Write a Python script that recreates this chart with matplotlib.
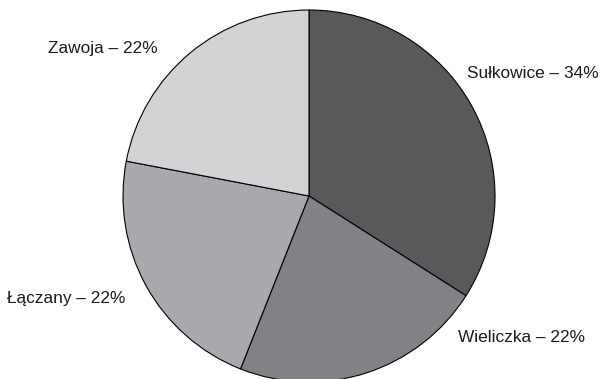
import matplotlib
matplotlib.use("Agg")
import matplotlib.pyplot as plt

plt.rcParams['font.family'] = ['Liberation Sans', 'DejaVu Sans']

# data
places = ["Sułkowice", "Wieliczka", "Łączany", "Zawoja"]
shares = [34, 22, 22, 22]
colors = ["#58595b", "#808285", "#a7a9ac", "#d1d3d4"]

# label anchors in pixels (left x, centre y from top)
label_px = [(467, 74), (458, 337), (7, 299), (48, 49)]

W, H = 610, 379
fig = plt.figure(figsize=(W / 100, H / 100), dpi=100)

cx, cy, r = 309, 196, 186
ax = fig.add_axes([(cx - r) / W, (H - cy - r) / H, 2 * r / W, 2 * r / H])
ax.pie(shares, colors=colors, startangle=90, counterclock=False,
       wedgeprops=dict(edgecolor="black", linewidth=0.8))
ax.set_xlim(-1, 1)
ax.set_ylim(-1, 1)
ax.axis("off")

for name, val, (px, py) in zip(places, shares, label_px):
    fig.text(px / W, 1 - py / H, f"{name} – {val}%", fontsize=12.4,
             ha="left", va="center", color="#1a1a1a")

fig.savefig("out.png", dpi=100)
